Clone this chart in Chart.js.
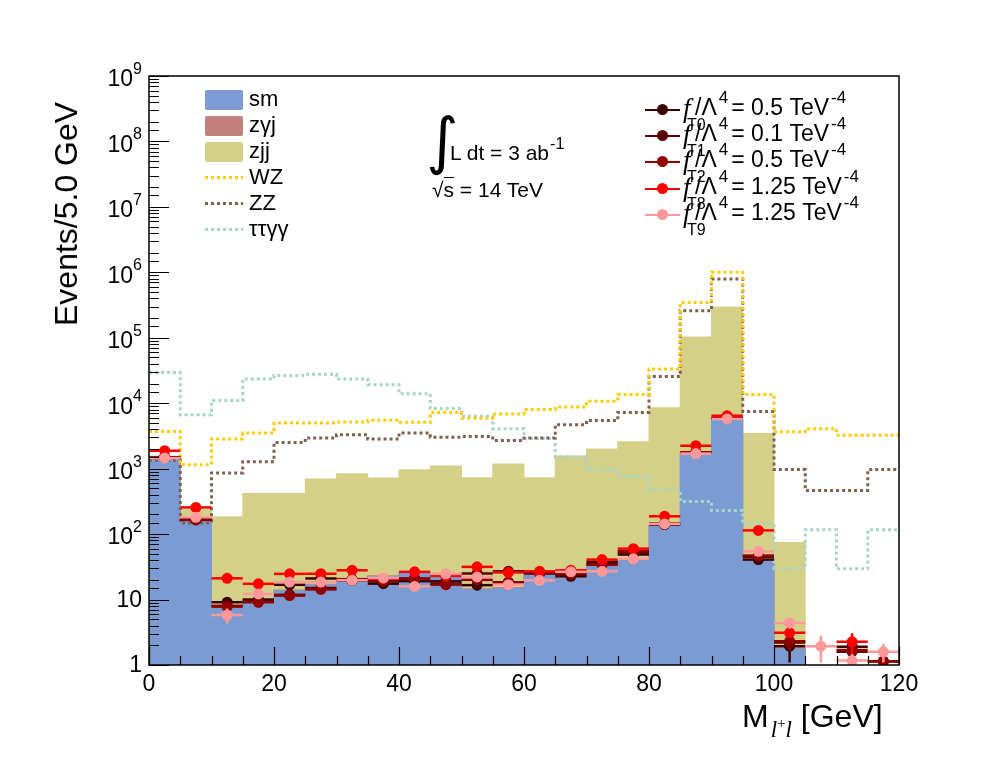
<!DOCTYPE html>
<html>
<head>
<meta charset="utf-8">
<script src="https://cdn.jsdelivr.net/npm/chart.js@4.4.1/dist/chart.umd.min.js"></script>
<style>
  body { margin: 0; background: #fff; }
  #wrap { position: relative; width: 998px; height: 775px; font-family: "Liberation Sans", Arial, sans-serif; color: #000; }
  #chart { position: absolute; left: 0; top: 0; }
  .abs { position: absolute; white-space: nowrap; }
  .sw { position: absolute; left: 205px; width: 38px; height: 20px; border-radius: 2px; }
  .dl { position: absolute; left: 205px; width: 38px; height: 3px; }
  .lt { position: absolute; left: 249px; font-size: 22px; line-height: 22px; white-space: nowrap; }
  .sp { font-size: 16px; position: relative; top: -0.7em; margin-left: 1px; }
  .mline { position: absolute; left: 645px; width: 35px; height: 2px; }
  .mdot { position: absolute; left: 657px; width: 11px; height: 11px; border-radius: 50%; }
  .ff { position: absolute; left: 683px; font-family: "Liberation Serif", serif; font-style: italic; font-size: 27px; line-height: 24px; }
  .fs { position: absolute; left: 687px; font-size: 16px; line-height: 16px; }
  .rt { position: absolute; left: 695px; font-size: 23px; line-height: 24px; white-space: nowrap; }
  .rt .sp { font-size: 17px; margin-left: 2px; margin-right: 3px; }
</style>
</head>
<body>
<div id="wrap">
  <canvas id="chart" width="998" height="775"></canvas>

  <div class="abs" id="ytitle" style="left:66px; top:214px; font-size:32px; line-height:32px; transform: translate(-50%,-50%) rotate(-90deg);">Events/5.0 GeV</div>
  <div class="abs" style="left:742px; top:700px; font-size:32px; line-height:32px;">M<span style="font-family:'Liberation Serif',serif; font-style:italic; font-size:23px; position:relative; top:0.42em; margin-left:2px;">l<span style="font-size:15px; position:relative; top:-0.6em; font-style:normal;">+</span>l</span> [GeV]</div>

  <!-- background legend -->
  <div class="sw" style="top:90px; background:#7b9bd2"></div>
  <div class="lt" style="top:88px">sm</div>
  <div class="sw" style="top:116px; background:#c2817a"></div>
  <div class="lt" style="top:114px">z&gamma;j</div>
  <div class="sw" style="top:142px; background:#d4d088"></div>
  <div class="lt" style="top:140px">zjj</div>
  <div class="dl" style="top:176px; background: repeating-linear-gradient(90deg, #ffcc00 0 3px, transparent 3px 6px);"></div>
  <div class="lt" style="top:166px">WZ</div>
  <div class="dl" style="top:202px; background: repeating-linear-gradient(90deg, #80604f 0 3px, transparent 3px 6px);"></div>
  <div class="lt" style="top:192px">ZZ</div>
  <div class="dl" style="top:228px; background: repeating-linear-gradient(90deg, #a7d6c8 0 3px, transparent 3px 6px);"></div>
  <div class="lt" style="top:218px">&tau;&tau;&gamma;&gamma;</div>

  <!-- luminosity text -->
  <div class="abs" style="left:426px; top:110px; font-size:62px; line-height:62px; font-family:'DejaVu Sans',sans-serif;">&int;</div>
  <div class="abs" style="left:450px; top:142px; font-size:21px; line-height:21px;">L dt = 3 ab<span class="sp">-1</span></div>
  <div class="abs" style="left:432px; top:179px; font-size:21px; line-height:21px;">&radic;<span style="border-top:1.5px solid #000;">s</span> = 14 TeV</div>

  <!-- signal legend -->
  <div class="mline" style="top:109px; background:#3d0000"></div><div class="mdot" style="top:104px; background:#3d0000"></div>
  <div class="ff" style="top:96px">f</div><div class="fs" style="top:117px">T0</div>
  <div class="rt" style="top:95px">/&Lambda;<span class="sp">4</span>= 0.5 TeV<span class="sp">-4</span></div>

  <div class="mline" style="top:135px; background:#5c0000"></div><div class="mdot" style="top:130px; background:#5c0000"></div>
  <div class="ff" style="top:122px">f</div><div class="fs" style="top:143px">T1</div>
  <div class="rt" style="top:121px">/&Lambda;<span class="sp">4</span>= 0.1 TeV<span class="sp">-4</span></div>

  <div class="mline" style="top:161px; background:#900000"></div><div class="mdot" style="top:156px; background:#900000"></div>
  <div class="ff" style="top:148px">f</div><div class="fs" style="top:169px">T2</div>
  <div class="rt" style="top:147px">/&Lambda;<span class="sp">4</span>= 0.5 TeV<span class="sp">-4</span></div>

  <div class="mline" style="top:188px; background:#ff0000"></div><div class="mdot" style="top:183px; background:#ff0000"></div>
  <div class="ff" style="top:175px">f</div><div class="fs" style="top:196px">T8</div>
  <div class="rt" style="top:174px">/&Lambda;<span class="sp">4</span>= 1.25 TeV<span class="sp">-4</span></div>

  <div class="mline" style="top:214px; background:#ff9999"></div><div class="mdot" style="top:209px; background:#ff9999"></div>
  <div class="ff" style="top:201px">f</div><div class="fs" style="top:222px">T9</div>
  <div class="rt" style="top:200px">/&Lambda;<span class="sp">4</span>= 1.25 TeV<span class="sp">-4</span></div>
</div>

<script>
// 5 GeV bins from 0 to 120
const binEdges = [0,5,10,15,20,25,30,35,40,45,50,55,60,65,70,75,80,85,90,95,100,105,110,115,120];
const binCenters = [2.5,7.5,12.5,17.5,22.5,27.5,32.5,37.5,42.5,47.5,52.5,57.5,62.5,67.5,72.5,77.5,82.5,87.5,92.5,97.5,102.5,107.5,112.5,117.5];
const binHalf = 2.5;

// stacked backgrounds (sm at the bottom, then zgj, then zjj)
const smVals  = [1420,160,7.5,10,13.9,17,21,23,25.6,22.7,14.5,15,25,21.5,35,40,136,1750,5600,41,1.8,0,0,0];
const zgjVals = [6,1.5,0.2,0.3,0.4,0.5,0.5,0.5,0.6,0.6,0.4,0.5,0.6,0.6,0.8,1,3,40,120,1,0.05,0,0,0];
const zjjVals = [5,85,180,416,412,693,829,707,954,1097,725,1185,714,1570,2005,2580,8560,103000,294000,3457,74,0,0,0];

// dotted outlines
const wzVals   = [3700,1150,2830,3500,5000,5000,5150,5500,5100,7240,5900,6850,8000,8730,10700,13600,33400,346000,1000000,13600,3670,4080,3250,3250];
const zzVals   = [1350,148,860,1280,2520,2940,3300,2830,3500,3030,3100,2700,2950,4700,5450,7240,25700,258000,790000,7500,967,465,465,967];
const ttggVals = [29500,6640,11000,23400,26500,27700,23400,19200,14000,8300,6300,4080,2900,1510,967,760,477,316,230,145,29.5,117,29.5,117];

// signal points
const fT0Vals = [1500,168,9.1,10,16.8,21,19.5,17.5,19.1,19,16.6,27,26,22.7,37.6,48.7,140,1750,5850,40.8,1.94,null,1.9,1.14];
const fT1Vals = [1470,165,8.0,9.6,11.8,15,20,19,21,17.5,25,18.4,25,24,35,52,142,1750,5900,45,2.2,null,1.6,1.14];
const fT2Vals = [1490,166,7.8,9.1,11.5,14.3,20.3,19.5,20.7,16.9,20,18.4,26,25,34,55,145,1760,5950,47,2.3,null,1.7,1.14];
const fT8Vals = [1880,256,21.1,17.4,24.7,24.8,28,21,26.5,23,31.6,26,27,28,40.8,60,187,2240,6440,114,3.1,null,2.26,null];
const fT9Vals = [1450,181,5.8,12.2,18.5,18.5,19.7,21.4,15.9,24.7,22.2,16.9,19.7,26.5,27,42,143,1700,5750,54.6,4.4,1.94,1.17,1.59];

const fT0Errs = [0,0,0,0,0,0,0,0,0,0,0,0,0,0,0,0,0,0,0,0,0.85,0,0.5,0.4];
const fT1Errs = [0,0,0,0,0,0,0,0,0,0,0,0,0,0,0,0,0,0,0,0,0.6,0,0.5,0.4];
const fT2Errs = [0,0,0,0,0,0,0,0,0,0,0,0,0,0,0,0,0,0,0,0,0.6,0,0.5,0];
const fT8Errs = [0,0,0,0,0,0,0,0,0,0,0,0,0,0,0,0,0,0,0,0,0.5,0,0.8,0];
const fT9Errs = [0,0,1.5,0,0,0,0,0,0,0,0,0,0,0,0,0,0,0,0,0,0.8,0.85,0.3,0.5];

function isDecade(v) {
    const l = Math.log10(v);
    return Math.abs(l - Math.round(l)) < 1e-6;
}

let smTop = smVals.map((v, i) => v);
let zgjTop = smVals.map((v, i) => v + zgjVals[i]);
let zjjTop = smVals.map((v, i) => v + zgjVals[i] + zjjVals[i]);

function barData(vals) {
    return binCenters.map((c, i) => ({x: c, y: vals[i]}));
}
function stepData(vals) {
    return binEdges.map((e, i) => ({x: e, y: vals[Math.min(i, vals.length - 1)]}));
}
function pointData(vals) {
    return binCenters.map((c, i) => ({x: c, y: vals[i]}));
}

function barSet(label, vals, color, order) {
    return {type: "bar", label: label, data: barData(vals), backgroundColor: color,
            borderWidth: 0, barPercentage: 1.03, categoryPercentage: 1, grouped: false, order: order};
}
function stepSet(label, vals, color, order) {
    return {type: "line", label: label, data: stepData(vals), borderColor: color, borderWidth: 3,
            borderDash: [3, 3], stepped: "before", pointRadius: 0, fill: false, order: order};
}
function pointSet(label, vals, errs, color, order) {
    return {type: "scatter", label: label, data: pointData(vals), errs: errs, backgroundColor: color,
            borderColor: color, pointRadius: 5.5, borderWidth: 0, showLine: false, order: order};
}

// horizontal bin-width bars and vertical error bars under each marker set
const errorBars = {
    id: "errorBars",
    beforeDatasetDraw(chart, args) {
        const ds = chart.data.datasets[args.index];
        if (!ds.errs) return;
        const {ctx, scales: {x, y}, chartArea: a} = chart;
        ctx.save();
        ctx.beginPath();
        ctx.rect(a.left, a.top, a.right - a.left, a.bottom - a.top);
        ctx.clip();
        ctx.strokeStyle = ds.backgroundColor;
        ctx.lineWidth = 2.5;
        ds.data.forEach((p, i) => {
            if (p.y === null || p.y === undefined) return;
            const py = y.getPixelForValue(p.y);
            ctx.beginPath();
            ctx.moveTo(x.getPixelForValue(p.x - binHalf), py);
            ctx.lineTo(x.getPixelForValue(p.x + binHalf), py);
            const e = ds.errs[i];
            if (e > 0) {
                const px = x.getPixelForValue(p.x);
                const lo = Math.max(p.y - e, y.min);
                ctx.moveTo(px, y.getPixelForValue(p.y + e));
                ctx.lineTo(px, y.getPixelForValue(lo));
            }
            ctx.stroke();
        });
        ctx.restore();
    }
};

// ROOT style frame with inward tick marks, and 10^n labels on the log axis
const frameTicks = {
    id: "frameTicks",
    afterDatasetsDraw(chart) {
        const {ctx, chartArea: a, scales: {x, y}} = chart;
        ctx.save();
        ctx.strokeStyle = "#000";
        ctx.lineWidth = 1.2;
        ctx.beginPath();
        y.ticks.forEach(t => {
            const py = Math.round(y.getPixelForValue(t.value)) + 0.5;
            const len = isDecade(t.value) ? 20 : 10;
            ctx.moveTo(a.left, py);
            ctx.lineTo(a.left + len, py);
        });
        x.ticks.forEach(t => {
            const px = Math.round(x.getPixelForValue(t.value)) + 0.5;
            const len = t.value % 20 === 0 ? 18 : 9;
            ctx.moveTo(px, a.bottom);
            ctx.lineTo(px, a.bottom - len);
        });
        ctx.stroke();
        ctx.lineWidth = 1.5;
        ctx.strokeRect(a.left, a.top, a.right - a.left, a.bottom - a.top);

        ctx.fillStyle = "#000";
        const right = a.left - 7;
        y.ticks.forEach(t => {
            if (!isDecade(t.value)) return;
            const e = Math.round(Math.log10(t.value));
            const py = y.getPixelForValue(t.value);
            ctx.textAlign = "right";
            ctx.textBaseline = "middle";
            if (e <= 1) {
                ctx.font = "23px 'Liberation Sans', Arial, sans-serif";
                ctx.fillText(e === 0 ? "1" : "10", right, py + 1);
                return;
            }
            ctx.font = "16px 'Liberation Sans', Arial, sans-serif";
            const ew = ctx.measureText(String(e)).width;
            ctx.textBaseline = "alphabetic";
            ctx.fillText(String(e), right, py - 2);
            ctx.font = "23px 'Liberation Sans', Arial, sans-serif";
            ctx.textBaseline = "middle";
            ctx.fillText("10", right - ew, py + 4);
        });
        ctx.restore();
    }
};

Chart.defaults.font.family = "'Liberation Sans', Arial, sans-serif";
Chart.defaults.color = "#000";

new Chart(
    document.querySelector("canvas#chart"),
    {
        type: "bar",
        data: {
            datasets: [
                barSet("zjj", zjjTop, "#d4d088", 100),
                barSet("z\u03b3j", zgjTop, "#c2817a", 99),
                barSet("sm", smTop, "#7b9bd2", 98),
                stepSet("\u03c4\u03c4\u03b3\u03b3", ttggVals, "#a7d6c8", 50),
                stepSet("ZZ", zzVals, "#80604f", 49),
                stepSet("WZ", wzVals, "#ffcc00", 48),
                pointSet("fT0", fT0Vals, fT0Errs, "#3d0000", 10),
                pointSet("fT1", fT1Vals, fT1Errs, "#5c0000", 9),
                pointSet("fT2", fT2Vals, fT2Errs, "#900000", 8),
                pointSet("fT8", fT8Vals, fT8Errs, "#ff0000", 7),
                pointSet("fT9", fT9Vals, fT9Errs, "#ff9999", 6)
            ]
        },
        options: {
            responsive: false,
            animation: false,
            layout: {padding: {top: 76, right: 99, left: 0, bottom: 0}},
            plugins: {legend: {display: false}, tooltip: {enabled: false}},
            scales: {
                x: {
                    type: "linear", min: 0, max: 120, offset: false,
                    grid: {display: false, drawTicks: false},
                    border: {display: false},
                    ticks: {
                        stepSize: 5, autoSkip: false, maxRotation: 0, padding: 6,
                        font: {size: 23},
                        callback: v => (v % 20 === 0 ? String(v) : "")
                    },
                    afterFit: s => { s.height = 110; }
                },
                y: {
                    type: "logarithmic", min: 1, max: 1e9,
                    grid: {display: false, drawTicks: false},
                    border: {display: false},
                    ticks: {display: false, autoSkip: false},
                    afterFit: s => { s.width = 149; }
                }
            }
        },
        plugins: [errorBars, frameTicks]
    }
);
</script>
</body>
</html>
